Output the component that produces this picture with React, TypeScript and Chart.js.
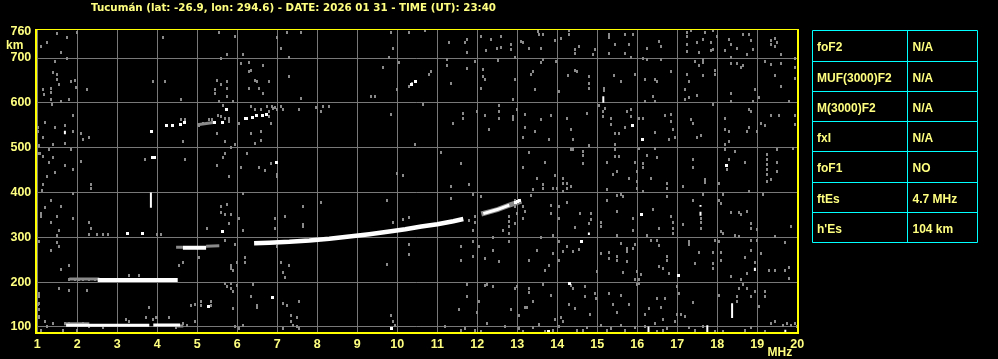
import { useEffect, useRef } from "react";
import { Chart, registerables } from "chart.js";

Chart.register(...registerables);

const TITLE = "Tucumán (lat: -26.9, lon: 294.6) - DATE: 2026 01 31 - TIME (UT): 23:40";
const freqTicks = [1, 2, 3, 4, 5, 6, 7, 8, 9, 10, 11, 12, 13, 14, 15, 16, 17, 18, 19, 20];
const heightTicks = [100, 200, 300, 400, 500, 600, 700, 760];
const tableParams = ["foF2", "MUF(3000)F2", "M(3000)F2", "fxI", "foF1", "ftEs", "h'Es"];
const tableValues = ["N/A", "N/A", "N/A", "N/A", "NO", "4.7 MHz", "104 km"];

type P = [number, number];

// main echo traces (frequency MHz, virtual height km)
const whiteTraces: P[][] = [
  [[1.72, 104], [3.8, 104]],
  [[3.9, 104.5], [4.57, 104.5]],
  [[2.51, 205], [4.51, 205]],
  [[4.64, 277], [5.22, 277]],
  [[6.42, 287], [6.8, 288], [7.3, 290], [7.8, 293], [8.3, 297], [8.8, 302], [9.3, 307], [9.8, 313], [10.2, 318], [10.6, 324], [11.0, 329], [11.4, 336], [11.65, 341]],
  [[12.15, 353], [12.5, 362], [12.8, 372]],
];
const grayTraces: P[][] = [
  [[1.67, 107], [2.3, 107]],
  [[4.5, 102], [4.65, 102]],
  [[1.8, 207], [2.55, 207]],
  [[4.47, 278], [4.64, 278]],
  [[5.22, 280], [5.55, 281]],
  [[12.1, 352], [12.5, 362], [12.8, 372], [13.1, 381]],
  [[5.0, 551], [5.4, 556]],
];
const whiteSpikes: P[][] = [
  [[3.84, 366], [3.84, 400]],
  [[18.37, 120], [18.37, 153]],
  [[17.75, 86], [17.75, 104]],
  [[16.28, 86], [16.28, 101]],
  [[19.7, 86], [19.7, 94]],
  [[15.15, 600], [15.15, 615]],
  [[1.69, 530], [1.69, 538]],
  [[17.58, 348], [17.58, 357]],
  [[17.58, 368], [17.58, 372]],
  [[14.79, 305], [14.79, 311]],
  [[18.94, 225], [18.94, 232]],
];
const whiteDots: P[] = [
  [5.29, 146], [5.64, 313], [6.87, 165], [3.25, 308], [3.62, 309], [9.85, 96], [3.88, 479], [3.94, 479],
  [6.99, 466], [16.1, 351], [14.6, 290], [17.04, 214], [14.3, 196], [13.79, 90], [15.89, 550], [16.14, 518],
  [18.24, 461], [10.35, 642], [10.45, 648], [3.85, 537], [4.23, 549], [4.38, 549], [4.59, 551], [4.69, 556],
  [5.43, 556], [5.63, 557], [5.73, 585], [6.2, 566], [6.23, 565], [6.38, 568], [6.48, 571], [6.63, 572],
  [6.73, 575], [12.95, 377], [13.0, 380], [13.05, 382],
];

const noiseUpperLeft: P[] = [
  [1.48, 754], [1.74, 746], [1.98, 757], [1.24, 734], [1.08, 725], [1.58, 712], [1.73, 698], [1.45, 693],
  [1.38, 668], [1.48, 663], [1.48, 652], [1.84, 648], [1.94, 650], [1.97, 635], [1.55, 642], [1.13, 629],
  [1.33, 633], [1.33, 624], [1.17, 618], [2.23, 629], [1.33, 607], [1.58, 602], [1.78, 607], [1.37, 597],
  [1.88, 571], [1.18, 557], [1.43, 545], [1.7, 549], [1.88, 537], [1.13, 522], [2.08, 531], [2.28, 522],
  [2.13, 518], [1.7, 510], [1.38, 508], [1.03, 505], [1.28, 496], [1.07, 488], [1.13, 481], [1.02, 486],
  [1.38, 477], [1.85, 496], [2.08, 470], [1.3, 468], [1.68, 460], [1.88, 451], [1.43, 444], [1.25, 436],
  [1.02, 537], [1.02, 544],
  [3.88, 647], [4.18, 647], [4.58, 607], [4.13, 746], [5.53, 757], [5.94, 748], [5.74, 708], [6.13, 708],
  [5.59, 699], [6.08, 687], [6.28, 690], [6.28, 670], [6.63, 683], [6.33, 673], [6.45, 650], [6.5, 647],
  [6.78, 647], [5.48, 651], [5.59, 642], [5.73, 647], [5.73, 633], [5.44, 629], [5.44, 620], [5.74, 615],
  [5.88, 602], [5.53, 602], [5.63, 594], [6.28, 632], [6.53, 633], [6.63, 620], [6.98, 746], [7.09, 721],
  [7.23, 756], [7.58, 757], [7.28, 702], [7.28, 659], [7.58, 609], [7.96, 589], [8.13, 591], [8.28, 591],
  [8.09, 580], [7.55, 585], [7.08, 591], [7.13, 585],
  [9.84, 757], [10.28, 757], [9.9, 722], [9.78, 702], [10.03, 691], [9.63, 678], [10.3, 637], [10.37, 644],
  [9.98, 629], [9.34, 614], [9.43, 615], [9.84, 575], [10.43, 508], [9.98, 442], [10.13, 438],
  [4.63, 513], [5.49, 531], [5.69, 514], [5.93, 508], [5.84, 501], [6.24, 486], [5.69, 486], [5.63, 477],
  [5.49, 460], [5.78, 436], [6.08, 455], [6.53, 455], [6.68, 450], [6.83, 464], [6.98, 435], [6.43, 510],
  [6.58, 516], [6.33, 531], [6.59, 535], [6.84, 553], [6.05, 553], [3.68, 473], [4.69, 473], [6.98, 441],
  [4.59, 563], [4.69, 563], [5.05, 550], [5.13, 554], [5.3, 562], [5.37, 562], [5.68, 565], [5.78, 566],
  [5.8, 559], [6.34, 592], [6.43, 585], [6.59, 585], [6.73, 592], [6.87, 592], [6.93, 589], [6.8, 581],
  [6.65, 572], [6.72, 575], [6.8, 570], [6.88, 587], [6.98, 585], [5.51, 572], [5.59, 570],
];

const noiseUpperRight: P[] = [
  [10.68, 761], [11.28, 734], [11.73, 742], [11.69, 734], [11.73, 712], [11.24, 696], [11.24, 684], [10.8, 664],
  [10.83, 670], [11.34, 643], [11.73, 676], [11.94, 693], [12.09, 748], [12.22, 716], [12.34, 742], [12.48, 721],
  [12.58, 749], [12.6, 724], [12.84, 730], [12.84, 719], [12.95, 702], [12.51, 694], [12.13, 674], [12.18, 652],
  [12.13, 659], [12.09, 633], [12.94, 652], [12.88, 607], [10.63, 597],
  [13.09, 737], [13.15, 734], [13.3, 721], [13.55, 752], [13.63, 752], [13.52, 760], [13.59, 721], [13.93, 739],
  [14.09, 743], [14.3, 761], [14.28, 752], [14.43, 719], [14.43, 711], [14.53, 725], [14.94, 719], [14.88, 708],
  [13.59, 689], [13.63, 696], [13.97, 693], [13.38, 669], [13.34, 663], [13.43, 629], [14.03, 626], [14.26, 661],
  [14.43, 673], [14.48, 670], [14.78, 659], [14.78, 644], [14.78, 633], [15.28, 752], [15.28, 745], [15.69, 752],
  [15.88, 752], [15.44, 730], [15.79, 730], [15.69, 711], [15.28, 711], [15.83, 702], [15.41, 661], [15.58, 647],
  [15.93, 664], [15.17, 627], [15.17, 631], [15.03, 594], [15.19, 587], [15.15, 581], [15.13, 570],
  [16.23, 721], [16.55, 737], [16.59, 726], [16.23, 696], [16.13, 699], [16.59, 696], [16.84, 670], [16.19, 652],
  [16.45, 652], [16.48, 647], [16.38, 615], [16.19, 602], [16.44, 602], [17.23, 756], [17.23, 748], [17.23, 730],
  [17.23, 715], [17.35, 761], [17.49, 734], [17.53, 713], [17.68, 756], [17.65, 742], [17.88, 761], [17.84, 734],
  [17.88, 719], [17.84, 716], [17.98, 748], [17.43, 693], [17.55, 684], [17.63, 696], [17.63, 689], [17.23, 664],
  [17.28, 647], [17.18, 629], [17.18, 607], [17.28, 611], [17.48, 616], [17.63, 661], [17.93, 673], [17.93, 663],
  [17.88, 597],
  [18.28, 742], [18.33, 730], [18.18, 716], [18.48, 721], [18.63, 752], [18.78, 752], [18.83, 739], [18.88, 719],
  [18.73, 708], [18.33, 702], [18.33, 687], [18.48, 687], [18.58, 679], [18.63, 683], [18.33, 621], [18.93, 629],
  [19.03, 611], [18.88, 603], [18.33, 602], [19.33, 739], [19.43, 743], [19.48, 734], [19.33, 730], [19.43, 725],
  [19.58, 708], [19.93, 700], [19.18, 693], [19.33, 685], [19.58, 687], [19.93, 678], [19.43, 661], [19.58, 636],
  [19.93, 655], [19.78, 603],
  [11.63, 577], [11.63, 566], [11.38, 553], [11.98, 581], [12.53, 594], [12.53, 581], [12.53, 565], [12.18, 571],
  [12.28, 540], [12.89, 570], [12.89, 563], [12.98, 585], [13.18, 575], [13.18, 544], [13.43, 537], [13.58, 563],
  [13.83, 571], [13.13, 522], [13.78, 518], [14.23, 565], [14.33, 540], [14.38, 519], [14.73, 577], [14.78, 504],
  [15.33, 566], [15.33, 551], [15.44, 531], [15.53, 531], [15.69, 544], [15.83, 585], [15.83, 570], [15.73, 581],
  [15.44, 508], [16.03, 566], [16.13, 566], [16.68, 571], [16.83, 575], [16.83, 559], [16.88, 540], [16.78, 518],
  [16.93, 522], [16.43, 533], [17.38, 555], [17.33, 563], [17.48, 522], [17.58, 527], [18.18, 566], [18.18, 540],
  [18.28, 535], [18.73, 535], [18.78, 544], [18.78, 585], [18.83, 581], [19.08, 555], [19.18, 549], [19.33, 571],
  [19.53, 571], [19.93, 551], [19.93, 572], [18.98, 537], [18.28, 513], [18.18, 508], [19.88, 499],
  [11.08, 490], [11.58, 464], [13.28, 490], [13.13, 455], [13.48, 432], [13.68, 468], [13.93, 437], [14.13, 431],
  [14.33, 496], [14.38, 496], [14.63, 492], [14.63, 482], [14.63, 464], [15.44, 496], [15.44, 481], [15.53, 480],
  [15.23, 468], [15.38, 441], [15.48, 446], [15.78, 432], [15.93, 468], [15.98, 446], [16.03, 498], [16.13, 464],
  [16.13, 455], [16.23, 482], [16.43, 499], [16.48, 477], [16.33, 432], [17.38, 473], [17.38, 455], [17.68, 429],
  [18.18, 496], [18.28, 473], [18.23, 451], [18.43, 492], [18.68, 468], [19.23, 484], [19.23, 473], [19.23, 462],
  [19.23, 451], [19.23, 440], [19.48, 496], [19.48, 468], [19.48, 446], [19.33, 429],
];

const noiseLowerLeft: P[] = [
  [1.13, 417], [2.33, 417], [2.33, 408], [1.12, 404], [1.88, 398], [1.33, 382], [1.58, 368], [1.18, 367],
  [1.08, 354], [1.08, 346], [1.48, 346], [1.33, 333], [2.28, 333], [2.33, 319], [1.88, 342], [1.53, 315],
  [1.48, 305], [2.28, 307], [2.5, 307], [2.63, 307], [2.76, 307], [3.98, 307], [4.08, 307], [1.03, 290],
  [1.48, 289], [1.53, 279], [1.33, 270], [1.58, 229], [1.78, 238], [1.03, 175], [1.03, 168], [1.03, 153],
  [1.03, 138], [1.03, 123], [1.08, 93], [1.23, 101], [1.53, 185], [1.78, 181], [2.23, 181], [1.18, 112],
  [3.78, 143], [3.98, 121], [4.28, 121], [4.84, 147], [4.93, 151], [5.08, 156], [5.08, 147], [5.33, 156],
  [5.33, 147], [4.93, 112], [4.73, 103],
  [5.58, 368], [5.58, 355], [5.73, 373], [5.68, 351], [5.83, 351], [5.78, 331], [5.23, 319], [6.13, 398],
  [6.03, 342], [6.13, 315], [5.93, 283], [5.68, 294], [5.03, 255], [4.63, 244], [4.53, 238], [5.83, 238],
  [5.83, 231], [5.9, 226], [5.98, 244], [6.18, 255], [6.18, 244], [5.68, 196], [5.73, 190], [5.83, 186],
  [5.88, 179], [5.98, 192], [5.88, 142], [5.83, 197], [6.38, 194], [6.33, 168], [6.48, 149], [6.48, 144],
  [6.93, 342], [6.93, 320], [7.18, 346], [7.63, 368], [7.63, 328], [7.63, 324], [8.08, 377], [6.98, 279],
  [7.08, 244], [7.28, 238], [7.13, 221], [7.18, 211], [7.13, 153], [7.23, 147], [7.53, 156], [5.93, 101],
  [6.03, 97], [6.13, 103], [7.13, 97], [7.33, 125], [7.48, 121], [7.33, 112], [7.48, 101], [7.38, 103],
  [7.53, 96],
  [9.73, 382], [9.88, 333], [10.13, 340], [10.28, 345], [10.28, 283], [10.28, 261], [9.73, 240], [9.83, 125],
  [9.88, 112], [9.93, 103],
  [1.8, 207], [1.95, 207], [2.03, 207], [2.13, 207], [2.3, 207], [2.43, 207], [3.3, 215], [3.53, 215],
  [1.68, 107], [1.8, 107], [2.13, 107], [2.3, 101], [2.63, 99], [3.22, 116], [3.3, 112], [3.72, 121],
  [3.88, 116], [3.97, 121], [4.47, 99], [4.63, 107],
  [1.02, 150], [1.04, 122], [1.08, 93], [1.39, 107], [1.64, 93], [2.0, 93],
];

const noiseLowerRight: P[] = [
  [11.33, 413], [11.78, 417], [12.08, 391], [11.33, 387], [11.88, 395], [11.93, 346], [11.93, 333], [11.78, 337],
  [11.88, 315], [11.58, 279], [11.88, 290], [12.03, 279], [11.88, 258], [11.58, 248], [12.18, 252], [12.38, 270],
  [12.38, 300], [12.53, 246], [12.78, 346], [12.78, 335], [12.78, 324], [12.78, 309], [12.78, 290], [12.65, 315],
  [12.93, 382], [12.93, 368], [12.98, 354], [13.13, 368], [13.18, 357], [13.13, 342], [12.93, 331],
  [13.38, 407], [13.63, 417], [13.63, 409], [13.88, 409], [13.98, 409], [14.13, 420], [14.23, 419], [14.23, 409],
  [14.33, 413], [14.13, 402], [13.34, 394], [13.83, 372], [13.83, 354], [14.03, 368], [14.03, 342], [14.23, 377],
  [14.57, 354], [14.83, 354], [14.83, 339], [14.78, 331], [14.43, 322], [13.88, 305], [13.58, 300], [13.48, 270],
  [13.28, 248], [13.88, 264], [13.68, 227], [13.78, 238], [14.13, 268], [14.38, 268], [14.23, 279], [14.53, 273],
  [14.03, 290], [14.03, 248], [15.23, 407], [15.23, 383], [15.48, 394], [15.58, 395], [15.63, 391], [15.88, 342],
  [16.13, 402], [16.38, 362], [15.98, 424], [15.98, 409], [15.08, 333], [15.08, 324], [15.48, 357], [15.48, 305],
  [15.88, 316], [16.23, 305], [16.53, 319], [16.33, 293], [16.48, 293],
  [16.73, 420], [16.73, 409], [16.73, 391], [17.13, 413], [17.68, 422], [17.63, 395], [17.38, 382], [17.58, 342],
  [17.58, 333], [17.58, 320], [16.83, 346], [16.88, 333], [16.88, 319], [16.88, 309], [17.13, 328], [16.53, 282],
  [16.73, 258], [16.73, 249], [16.53, 235], [16.63, 230], [16.78, 220], [17.28, 290], [17.28, 283], [17.53, 266],
  [17.43, 242], [17.88, 266], [17.88, 242], [17.88, 231], [17.93, 294], [15.58, 287], [15.73, 275], [15.73, 268],
  [15.88, 275], [15.93, 283], [15.28, 266], [15.28, 253], [15.48, 258], [15.48, 249], [15.73, 246], [15.98, 223],
  [16.08, 216], [16.03, 206], [15.93, 205], [15.63, 221], [15.08, 264], [14.98, 223],
  [18.03, 419], [18.13, 395], [18.03, 382], [18.08, 376], [18.33, 355], [18.53, 355], [18.58, 350], [18.73, 357],
  [18.78, 402], [19.13, 395], [19.23, 424], [18.83, 331], [18.83, 320], [18.98, 318], [19.43, 301], [19.83, 324],
  [18.83, 294], [18.98, 294], [19.68, 288], [18.08, 313], [18.03, 290], [18.13, 309], [18.43, 305], [18.53, 302],
  [18.08, 266], [18.08, 248], [18.68, 255], [18.83, 270], [19.08, 263], [18.33, 212], [18.58, 207], [18.73, 220],
  [18.93, 244], [19.28, 226], [19.43, 226], [19.68, 227], [19.78, 233], [19.78, 208],
  [11.73, 194], [11.73, 168], [12.18, 193], [12.23, 194], [12.38, 190], [12.93, 186], [12.98, 190], [12.03, 157],
  [11.53, 138], [11.98, 132], [12.23, 107], [12.83, 138], [13.03, 125], [13.18, 143], [13.23, 143], [13.28, 186],
  [13.28, 177], [13.38, 157], [13.63, 194], [13.83, 171], [14.33, 192], [14.38, 186], [14.68, 190], [14.68, 168],
  [14.43, 141], [14.28, 151], [13.93, 116], [14.13, 112], [14.08, 122], [14.93, 175], [14.97, 164], [14.82, 127],
  [15.28, 174], [15.38, 151], [15.48, 132], [15.58, 171], [15.78, 151], [15.98, 194], [16.03, 196], [16.28, 142],
  [16.18, 127], [16.43, 108], [16.48, 164], [16.68, 164], [16.58, 144], [16.63, 116], [16.98, 190], [17.03, 175],
  [16.98, 128], [17.08, 128], [16.93, 112], [17.18, 123], [17.38, 154], [18.03, 171], [18.48, 168], [18.48, 157],
  [18.53, 186], [18.63, 194], [18.73, 186], [18.83, 168], [18.93, 179], [19.03, 145], [19.18, 179], [19.18, 168],
  [19.33, 107], [19.43, 112], [19.63, 103], [19.73, 107], [19.83, 103], [19.93, 108], [19.98, 101],
  [11.18, 102], [11.58, 92], [11.68, 96], [11.93, 92], [12.08, 90], [12.68, 102], [13.03, 97], [13.13, 90],
  [13.38, 99], [13.55, 106], [13.68, 90], [13.88, 93], [14.03, 101], [14.48, 92], [14.63, 93], [14.73, 99],
  [15.08, 103], [15.23, 92], [15.33, 96], [15.58, 103], [15.68, 92], [15.93, 99], [16.18, 101], [16.48, 90],
  [16.63, 92], [16.73, 96], [17.28, 99], [17.43, 93], [17.63, 101], [17.93, 90], [18.13, 90], [18.68, 93],
  [18.83, 99], [19.18, 90],
];

// styles (kept apart from the data)
const TEXT = "#ffff80";
const FRAME = "#ffff00";
const GRID = "#787878";
const NOISE = "#8a8a8a";
const CYAN = "#00ffff";
const SANS = '"Liberation Sans", Arial, sans-serif';
const whiteTraceWidths = [3, 3, 4, 4, 4.5, 3];
const grayTraceWidths = [3, 3, 3, 3, 3, 5, 3];

const toXY = (pts: P[]) => pts.map(([x, y]) => ({ x, y }));

const makeBlock = (w: number, h: number, color: string) => {
  const c = document.createElement("canvas");
  c.width = w;
  c.height = h;
  const g = c.getContext("2d")!;
  g.fillStyle = color;
  g.fillRect(0, 0, w, h);
  return c;
};

const overlayPlugin = {
  id: "ionoOverlay",
  beforeDraw(chart: any) {
    const ctx = chart.ctx;
    ctx.save();
    ctx.fillStyle = "#000";
    ctx.fillRect(0, 0, chart.width, chart.height);
    ctx.restore();
  },
  beforeDatasetsDraw(chart: any) {
    chart.ctx.imageSmoothingEnabled = false;
  },
  afterDraw(chart: any) {
    const ctx = chart.ctx;
    const a = chart.chartArea;
    ctx.save();
    // frame
    ctx.fillStyle = FRAME;
    const l = Math.floor(a.left);
    const t = Math.floor(a.top);
    const r = Math.round(a.right);
    const b = Math.round(a.bottom);
    ctx.fillRect(l, t, 2, b - t);
    ctx.fillRect(l, t, r - l + 2, 1);
    ctx.fillRect(l, b - 2, r - l + 2, 2);
    ctx.fillRect(r, t, 2, b - t);
    // title & axis units
    ctx.fillStyle = TEXT;
    ctx.textAlign = "left";
    ctx.textBaseline = "alphabetic";
    ctx.font = 'bold 10.3px "DejaVu Sans", sans-serif';
    ctx.fillText(TITLE, 91, 10.5);
    ctx.font = `bold 12px ${SANS}`;
    ctx.fillText("km", 6, 48.7);
    ctx.fillText("MHz", 767.5, 356);
    // parameter table
    const tx0 = 812.5, tx1 = 907.5, tx2 = 977.5;
    const top = 30.3, rowH = 30.29;
    const ys: number[] = [];
    for (let i = 0; i <= tableParams.length; i++) ys.push(Math.round(top + i * rowH) + 0.5);
    ctx.strokeStyle = CYAN;
    ctx.lineWidth = 1;
    ctx.beginPath();
    ys.forEach((y) => {
      ctx.moveTo(tx0, y);
      ctx.lineTo(tx2, y);
    });
    [tx0, tx1, tx2].forEach((x) => {
      ctx.moveTo(x, ys[0]);
      ctx.lineTo(x, ys[ys.length - 1]);
    });
    ctx.stroke();
    ctx.fillStyle = TEXT;
    tableParams.forEach((p, i) => {
      const by = ys[i] + 20.5;
      ctx.fillText(p, 817, by);
      ctx.fillText(tableValues[i], 912.5, by);
    });
    ctx.restore();
  },
};

export default function App() {
  const ref = useRef<HTMLCanvasElement | null>(null);
  useEffect(() => {
    if (!ref.current) return;
    document.body.style.background = "#000";
    const grayBlock = makeBlock(2, 3, NOISE);
    const whiteBlock = makeBlock(3, 3, "#ffffff");
    const lineDs = (seg: P[], color: string, width: number) => ({
      data: toXY(seg),
      showLine: true,
      borderColor: color,
      backgroundColor: color,
      borderWidth: width,
      pointRadius: 0,
      tension: 0,
    });
    // bottom-most first; reversed below because Chart.js paints dataset 0 on top
    const layers: any[] = [
      {
        data: toXY([...noiseUpperLeft, ...noiseUpperRight, ...noiseLowerLeft, ...noiseLowerRight]),
        pointStyle: grayBlock,
        pointRadius: 1.5,
        backgroundColor: NOISE,
        borderWidth: 0,
        showLine: false,
      },
      ...grayTraces.map((s, i) => lineDs(s, NOISE, grayTraceWidths[i])),
      ...whiteTraces.map((s, i) => lineDs(s, "#ffffff", whiteTraceWidths[i])),
      ...whiteSpikes.map((s) => lineDs(s, "#ffffff", 2)),
      {
        data: toXY(whiteDots),
        pointStyle: whiteBlock,
        pointRadius: 1.5,
        backgroundColor: "#ffffff",
        borderWidth: 0,
        showLine: false,
      },
    ];
    const datasets = layers.reverse();
    const tickFont = { family: SANS, size: 12.5, weight: "bold" as const };
    const chart = new Chart(ref.current, {
      type: "scatter",
      data: { datasets },
      options: {
        animation: false,
        responsive: false,
        devicePixelRatio: 1,
        events: [],
        layout: { padding: { left: 0, top: 29.8, right: 200.7, bottom: 0 } },
        plugins: { legend: { display: false }, tooltip: { enabled: false }, title: { display: false } },
        scales: {
          x: {
            type: "linear",
            min: 0.95,
            max: 20,
            afterBuildTicks: (s: any) => {
              s.ticks = freqTicks.map((v) => ({ value: v }));
            },
            afterFit: (s: any) => {
              s.height = 25.3;
            },
            grid: { color: GRID, lineWidth: 1, drawTicks: false },
            border: { display: false },
            ticks: { color: TEXT, font: tickFont, padding: 3, autoSkip: false, maxRotation: 0 },
          },
          y: {
            type: "linear",
            min: 85,
            max: 763,
            afterBuildTicks: (s: any) => {
              s.ticks = heightTicks.map((v) => ({ value: v }));
            },
            afterFit: (s: any) => {
              s.width = 35.3;
            },
            grid: {
              color: (c: any) => (c.tick && c.tick.value === 760 ? "rgba(0,0,0,0)" : GRID),
              lineWidth: 1,
              drawTicks: false,
            },
            border: { display: false },
            ticks: { color: TEXT, font: tickFont, padding: 4, autoSkip: false },
          },
        },
      },
      plugins: [overlayPlugin],
    });
    return () => chart.destroy();
  }, []);
  return (
    <div style={{ position: "absolute", left: 0, top: 0, width: 998, height: 359, background: "#000" }}>
      <canvas ref={ref} width={998} height={359} style={{ display: "block" }} />
    </div>
  );
}
